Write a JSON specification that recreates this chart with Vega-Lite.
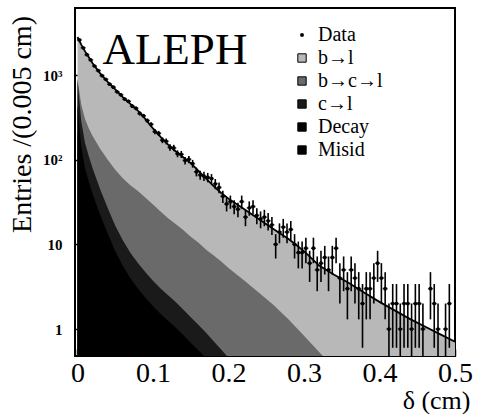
{
  "$schema": "https://vega.github.io/schema/vega-lite/v6.json",
  "width": 380,
  "height": 348,
  "autosize": {"type": "none"},
  "padding": {"left": 75, "top": 8, "right": 23, "bottom": 58},
  "background": "white",
  "config": {
    "view": {"stroke": "black", "strokeWidth": 2},
    "font": "Liberation Serif",
    "axis": {"labelFont": "Liberation Serif", "titleFont": "Liberation Serif", "domain": false, "grid": false, "labelColor": "black", "titleColor": "black", "tickColor": "black", "zindex": 1},
    "legend": {"labelFont": "Liberation Serif"}
  },
  "datasets": {
    "model": [
      {"x":0,"bl":1906,"bcl":21,"cl":445,"decay":223,"misid":223},
      {"x":0.005,"bl":1844,"bcl":165,"cl":141,"decay":70.5,"misid":70.5},
      {"x":0.01,"bl":1603,"bcl":144,"cl":79,"decay":39.5,"misid":39.5},
      {"x":0.015,"bl":1388,"bcl":124,"cl":55,"decay":27.5,"misid":27.5},
      {"x":0.02,"bl":1189,"bcl":111.6,"cl":39.7,"decay":19.85,"misid":19.85},
      {"x":0.03,"bl":912,"bcl":90.3,"cl":22.35,"decay":11.18,"misid":11.17},
      {"x":0.04,"bl":732,"bcl":73.1,"cl":13.45,"decay":6.73,"misid":6.72},
      {"x":0.05,"bl":600.1,"bcl":59.3,"cl":8.3,"decay":4.15,"misid":4.15},
      {"x":0.06,"bl":489.7,"bcl":49.1,"cl":5.6,"decay":2.8,"misid":2.8},
      {"x":0.07,"bl":406.9,"bcl":42.16,"cl":3.97,"decay":1.985,"misid":1.985},
      {"x":0.08,"bl":337.3,"bcl":36.67,"cl":3.015,"decay":1.51,"misid":1.505},
      {"x":0.09,"bl":266.5,"bcl":30.82,"cl":2.34,"decay":1.17,"misid":1.17},
      {"x":0.1,"bl":204.5,"bcl":25.78,"cl":1.86,"decay":0.93,"misid":0.93},
      {"x":0.11,"bl":161.5,"bcl":21.48,"cl":1.51,"decay":0.755,"misid":0.755},
      {"x":0.12,"bl":130.6,"bcl":17.89,"cl":1.255,"decay":0.628,"misid":0.627},
      {"x":0.13,"bl":108.6,"bcl":15.31,"cl":1.045,"decay":0.523,"misid":0.522},
      {"x":0.14,"bl":92.2,"bcl":13.1,"cl":0.85,"decay":0.425,"misid":0.425},
      {"x":0.15,"bl":78.9,"bcl":10.92,"cl":0.69,"decay":0.345,"misid":0.345},
      {"x":0.16,"bl":63.6,"bcl":9.38,"cl":0.56,"decay":0.28,"misid":0.28},
      {"x":0.17,"bl":51.59,"bcl":7.8,"cl":0.456,"decay":0.228,"misid":0.228},
      {"x":0.18,"bl":41.59,"bcl":6.69,"cl":0.362,"decay":0.181,"misid":0.181},
      {"x":0.19,"bl":34.39,"bcl":5.74,"cl":0.2875,"decay":0.144,"misid":0.144},
      {"x":0.2,"bl":29.45,"bcl":4.79,"cl":0.2285,"decay":0.114,"misid":0.114},
      {"x":0.22,"bl":22.5,"bcl":3.51,"cl":0.144,"decay":0.072,"misid":0.072},
      {"x":0.24,"bl":17.26,"bcl":2.51,"cl":0.091,"decay":0.0455,"misid":0.0455},
      {"x":0.26,"bl":13.19,"bcl":1.795,"cl":0.0575,"decay":0.029,"misid":0.029},
      {"x":0.28,"bl":10.21,"bcl":1.218,"cl":0.036,"decay":0.018,"misid":0.018},
      {"x":0.3,"bl":7.49,"bcl":0.786,"cl":0.023,"decay":0.0115,"misid":0.0115},
      {"x":0.32,"bl":5.08,"bcl":0.508,"cl":0.0145,"decay":0.0073,"misid":0.0072},
      {"x":0.34,"bl":4.02,"bcl":0.329,"cl":0.009,"decay":0.0045,"misid":0.0045},
      {"x":0.36,"bl":3.25,"bcl":0.213,"cl":0.0055,"decay":0.0028,"misid":0.0027},
      {"x":0.38,"bl":2.545,"bcl":0.137,"cl":0.004,"decay":0.002,"misid":0.002},
      {"x":0.4,"bl":2.0,"bcl":0.088,"cl":0.0025,"decay":0.0013,"misid":0.0012},
      {"x":0.42,"bl":1.6,"bcl":0.057,"cl":0.0015,"decay":0.0008,"misid":0.0007},
      {"x":0.44,"bl":1.28,"bcl":0.037,"cl":0.001,"decay":0.0005,"misid":0.0005},
      {"x":0.46,"bl":1.045,"bcl":0.024,"cl":0.0005,"decay":0.00025,"misid":0.00025},
      {"x":0.48,"bl":0.855,"bcl":0.0152,"cl":0.0004,"decay":0.0002,"misid":0.0002},
      {"x":0.5,"bl":0.698,"bcl":0.0095,"cl":0.00025,"decay":0.000125,"misid":0.000125}
    ],
    "data": [
      {"x":0.0025,"n":2600,"lo":2549,"hi":2651},
      {"x":0.0075,"n":2100,"lo":2054,"hi":2146},
      {"x":0.0125,"n":1740,"lo":1698,"hi":1782},
      {"x":0.0175,"n":1510,"lo":1471,"hi":1549},
      {"x":0.0225,"n":1280,"lo":1244,"hi":1316},
      {"x":0.0275,"n":1130,"lo":1096,"hi":1164},
      {"x":0.0325,"n":985,"lo":954,"hi":1016},
      {"x":0.0375,"n":890,"lo":860,"hi":920},
      {"x":0.0425,"n":780,"lo":752,"hi":808},
      {"x":0.0475,"n":720,"lo":693,"hi":747},
      {"x":0.0525,"n":635,"lo":610,"hi":660},
      {"x":0.0575,"n":585,"lo":561,"hi":609},
      {"x":0.0625,"n":520,"lo":497,"hi":543},
      {"x":0.0675,"n":490,"lo":468,"hi":512},
      {"x":0.0725,"n":430,"lo":409,"hi":451},
      {"x":0.0775,"n":405,"lo":385,"hi":425},
      {"x":0.0825,"n":352,"lo":333,"hi":371},
      {"x":0.0875,"n":330,"lo":312,"hi":348},
      {"x":0.0925,"n":290,"lo":273,"hi":307},
      {"x":0.0975,"n":262,"lo":246,"hi":278},
      {"x":0.1025,"n":215,"lo":200,"hi":230},
      {"x":0.1075,"n":205,"lo":191,"hi":219},
      {"x":0.1125,"n":170,"lo":157,"hi":183},
      {"x":0.1175,"n":165,"lo":152,"hi":178},
      {"x":0.1225,"n":140,"lo":128,"hi":152},
      {"x":0.1275,"n":138,"lo":126,"hi":150},
      {"x":0.1325,"n":118,"lo":107,"hi":129},
      {"x":0.1375,"n":116,"lo":105,"hi":127},
      {"x":0.1425,"n":98,"lo":88,"hi":108},
      {"x":0.1475,"n":101,"lo":91,"hi":111},
      {"x":0.1525,"n":90,"lo":80.5,"hi":99.5},
      {"x":0.1575,"n":72,"lo":63.5,"hi":80.5},
      {"x":0.1625,"n":66,"lo":57.9,"hi":74.1},
      {"x":0.1675,"n":64,"lo":56,"hi":72},
      {"x":0.1725,"n":62,"lo":54.1,"hi":69.9},
      {"x":0.1775,"n":60,"lo":52.3,"hi":67.7},
      {"x":0.1825,"n":52,"lo":44.8,"hi":59.2},
      {"x":0.1875,"n":47,"lo":40.1,"hi":53.9},
      {"x":0.1925,"n":37,"lo":30.9,"hi":43.1},
      {"x":0.1975,"n":30,"lo":24.5,"hi":35.5},
      {"x":0.2025,"n":32,"lo":26.3,"hi":37.7},
      {"x":0.2075,"n":28,"lo":22.7,"hi":33.3},
      {"x":0.2125,"n":26,"lo":20.9,"hi":31.1},
      {"x":0.2175,"n":32,"lo":26.3,"hi":37.7},
      {"x":0.2225,"n":21,"lo":16.4,"hi":25.6},
      {"x":0.2275,"n":27,"lo":21.8,"hi":32.2},
      {"x":0.2325,"n":28,"lo":22.7,"hi":33.3},
      {"x":0.2375,"n":22,"lo":17.3,"hi":26.7},
      {"x":0.2425,"n":20,"lo":15.5,"hi":24.5},
      {"x":0.2475,"n":21,"lo":16.4,"hi":25.6},
      {"x":0.2525,"n":19,"lo":14.6,"hi":23.4},
      {"x":0.2575,"n":17,"lo":12.9,"hi":21.1},
      {"x":0.2625,"n":10,"lo":6.8,"hi":13.2},
      {"x":0.2675,"n":14,"lo":10.3,"hi":17.7},
      {"x":0.2725,"n":16,"lo":12,"hi":20},
      {"x":0.2775,"n":14,"lo":10.3,"hi":17.7},
      {"x":0.2825,"n":15,"lo":11.1,"hi":18.9},
      {"x":0.2875,"n":10,"lo":6.8,"hi":13.2},
      {"x":0.2925,"n":8,"lo":5.2,"hi":10.8},
      {"x":0.2975,"n":8,"lo":5.2,"hi":10.8},
      {"x":0.3025,"n":9,"lo":6,"hi":12},
      {"x":0.3075,"n":6,"lo":3.6,"hi":8.4},
      {"x":0.3125,"n":9,"lo":6,"hi":12},
      {"x":0.3175,"n":5,"lo":2.8,"hi":7.2},
      {"x":0.3225,"n":6,"lo":3.6,"hi":8.4},
      {"x":0.3275,"n":7,"lo":4.4,"hi":9.6},
      {"x":0.3325,"n":5,"lo":2.8,"hi":7.2},
      {"x":0.3375,"n":7,"lo":4.4,"hi":9.6},
      {"x":0.3425,"n":9,"lo":6,"hi":12},
      {"x":0.3475,"n":4,"lo":2,"hi":6},
      {"x":0.3525,"n":5,"lo":2.8,"hi":7.2},
      {"x":0.3575,"n":3,"lo":1.3,"hi":4.7},
      {"x":0.3625,"n":5,"lo":2.8,"hi":7.2},
      {"x":0.3675,"n":4,"lo":2,"hi":6},
      {"x":0.3725,"n":3,"lo":1.3,"hi":4.7},
      {"x":0.3775,"n":2,"lo":0.6,"hi":3.4},
      {"x":0.3825,"n":3,"lo":1.3,"hi":4.7},
      {"x":0.3875,"n":3,"lo":1.3,"hi":4.7},
      {"x":0.3925,"n":4,"lo":2,"hi":6},
      {"x":0.3975,"n":6,"lo":3.6,"hi":8.4},
      {"x":0.4025,"n":4,"lo":2,"hi":6},
      {"x":0.4075,"n":3,"lo":1.3,"hi":4.7},
      {"x":0.4125,"n":1,"lo":0.01,"hi":2},
      {"x":0.4175,"n":2,"lo":0.6,"hi":3.4},
      {"x":0.4225,"n":2,"lo":0.6,"hi":3.4},
      {"x":0.4275,"n":1,"lo":0.01,"hi":2},
      {"x":0.4325,"n":2,"lo":0.6,"hi":3.4},
      {"x":0.4375,"n":2,"lo":0.6,"hi":3.4},
      {"x":0.4425,"n":1,"lo":0.01,"hi":2},
      {"x":0.4475,"n":2,"lo":0.6,"hi":3.4},
      {"x":0.4525,"n":2,"lo":0.6,"hi":3.4},
      {"x":0.4575,"n":1,"lo":0.01,"hi":2},
      {"x":0.4675,"n":3,"lo":1.3,"hi":4.7},
      {"x":0.4725,"n":2,"lo":0.6,"hi":3.4},
      {"x":0.4775,"n":1,"lo":0.01,"hi":2},
      {"x":0.4875,"n":1,"lo":0.01,"hi":2},
      {"x":0.4925,"n":2,"lo":0.6,"hi":3.4}
    ]
  },
  "layer": [
    {
      "data": {"name": "model"},
      "transform": [
        {"fold": ["misid", "decay", "cl", "bcl", "bl"], "as": ["comp", "n"]},
        {"stack": "n", "groupby": ["x"], "as": ["y0", "y1"]}
      ],
      "encoding": {
        "x": {
          "field": "x", "type": "quantitative", "title": "δ (cm)",
          "scale": {"domain": [-0.0033, 0.5], "nice": false, "zero": false},
          "axis": {
            "values": [0, 0.1, 0.2, 0.3, 0.4, 0.5], "format": "~g",
            "offset": -7, "tickSize": 7, "tickWidth": 1.5,
            "labelFontSize": 28, "labelPadding": 3,
            "labelFlush": false,
            "titleFontSize": 26, "titleFontWeight": "normal",
            "titleAnchor": "end", "titleAlign": "right", "titleBaseline": "alphabetic",
            "titleX": 395, "titleY": 59
          }
        },
        "y": {
          "field": "y1", "type": "quantitative", "title": "Entries /(0.005 cm)",
          "scale": {"type": "log", "domain": [0.48, 6200], "nice": false},
          "axis": {
            "values": [1, 10, 100, 1000],
            "labelExpr": "datum.value == 1000 ? '10³' : datum.value == 100 ? '10²' : datum.value == 10 ? '10' : '1'",
            "offset": -7, "tickSize": 7, "tickWidth": 1.5,
            "labelFontSize": 15, "labelFontWeight": "bold", "labelPadding": 13,
            "titleFontSize": 28, "titleFontWeight": "normal",
            "titleAngle": 270, "titleAlign": "center", "titleBaseline": "middle",
            "titleX": -60, "titleY": 116
          }
        },
        "y2": {"datum": 0.0001},
        "color": {
          "field": "comp", "type": "nominal",
          "scale": {
            "domain": ["data", "bl", "bcl", "cl", "decay", "misid"],
            "range": ["#000000", "#b8b8b8", "#6a6a6a", "#1a1a1a", "#000000", "#000000"]
          },
          "legend": {
            "orient": "none", "legendX": 217, "legendY": 17, "title": null,
            "padding": 0, "symbolType": "square", "symbolSize": 70,
            "symbolStrokeColor": "black", "symbolStrokeWidth": 1,
            "labelFontSize": 20, "labelOffset": 6, "rowPadding": 3,
            "labelColor": "black",
            "labelExpr": "datum.value == 'data' ? 'Data' : datum.value == 'bl' ? 'b→l' : datum.value == 'bcl' ? 'b→c→l' : datum.value == 'cl' ? 'c→l' : datum.value == 'decay' ? 'Decay' : 'Misid'",
            "encode": {"symbols": {"update": {"size": {"signal": "datum.value === 'data' ? 6 : 70"}}}}
          }
        }
      },
      "layer": [
        {"transform": [{"filter": "datum.comp === 'bl'"}], "mark": {"type": "area", "clip": true}},
        {"transform": [{"filter": "datum.comp === 'bcl'"}], "mark": {"type": "area", "clip": true}},
        {"transform": [{"filter": "datum.comp === 'cl'"}], "mark": {"type": "area", "clip": true}},
        {"transform": [{"filter": "datum.comp === 'decay'"}], "mark": {"type": "area", "clip": true}},
        {"transform": [{"filter": "datum.comp === 'misid'"}], "mark": {"type": "area", "clip": true}},
        {"transform": [{"filter": "datum.comp === 'bl'"}], "mark": {"type": "line", "clip": true, "strokeWidth": 1.8}, "encoding": {"color": {"value": "black"}, "y2": null}}
      ]
    },
    {
      "data": {"name": "data"},
      "encoding": {"x": {"field": "x", "type": "quantitative", "title": "δ (cm)"}},
      "layer": [
        {"mark": {"type": "rule", "clip": true, "color": "black", "strokeWidth": 1.6},
         "encoding": {"y": {"field": "lo", "type": "quantitative", "title": "Entries /(0.005 cm)"}, "y2": {"field": "hi"}}},
        {"mark": {"type": "tick", "orient": "horizontal", "size": 5, "thickness": 1.6, "color": "black", "clip": true},
         "encoding": {"y": {"field": "n", "type": "quantitative", "title": "Entries /(0.005 cm)"}}},
        {"mark": {"type": "point", "filled": true, "size": 14, "opacity": 1, "clip": true},
         "encoding": {"y": {"field": "n", "type": "quantitative", "title": "Entries /(0.005 cm)"}, "color": {"datum": "data"}}}
      ]
    },
    {
      "data": {"values": [{}]},
      "mark": {"type": "text", "font": "Liberation Serif", "fontSize": 45, "align": "center", "baseline": "alphabetic", "color": "black"},
      "encoding": {
        "x": {"datum": 0.129, "type": "quantitative"},
        "y": {"datum": 1346, "type": "quantitative"},
        "text": {"value": "ALEPH"}
      }
    }
  ]
}
